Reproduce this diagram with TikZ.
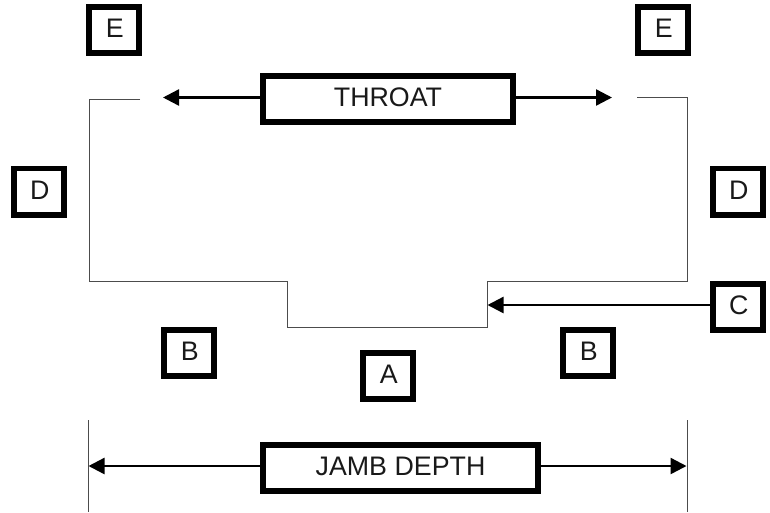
\documentclass[tikz,border=0pt]{standalone}
\usepackage{fontspec}
\setmainfont{Liberation Sans}
\usetikzlibrary{arrows.meta}
\begin{document}
\begin{tikzpicture}[x=1pt,y=-1pt,
  labelbox/.style={draw=black,fill=white,line width=5.7pt,inner sep=0pt,minimum height=46.3pt,
    font=\fontsize{26.8}{26.8}\selectfont,text height=19.2pt,text depth=3.6pt,text=black!90},
  letterbox/.style={labelbox,minimum width=50.3pt,text width=50.3pt,align=center},
  wall/.style={draw=black!70,line width=1pt,line cap=butt},
  pointer/.style={draw=black,line width=2.4pt,-{Triangle[length=16pt,width=16pt]}}]
\useasboundingbox (0,0) rectangle (770,512);
% outline
\coordinate (w1) at (140,99);
\coordinate (w2) at (89.5,99);
\coordinate (w3) at (89.5,281.7);
\coordinate (w4) at (287.5,281.7);
\coordinate (w5) at (287.5,327.7);
\coordinate (w6) at (487,327.7);
\coordinate (w7) at (487,281.7);
\coordinate (w8) at (687,281.7);
\coordinate (w9) at (687,97.7);
\coordinate (w10) at (637,97.7);
\draw[wall] (w1) -- (w2) -- (w3) -- (w4) -- (w5) -- (w6) -- (w7) -- (w8) -- (w9) -- (w10);
% jamb extents
\coordinate (jl1) at (88,420);
\coordinate (jl2) at (88,512);
\coordinate (jr1) at (687,420);
\coordinate (jr2) at (687,512);
\draw[wall] (jl1) -- (jl2);
\draw[wall] (jr1) -- (jr2);
% boxes
\node[letterbox] (e1) at (114,30) {\hspace*{1.5pt}E};
\node[letterbox] (e2) at (663,30) {\hspace*{1.5pt}E};
\node[letterbox] (d1) at (39,191.5) {\hspace*{1.5pt}D};
\node[letterbox] (d2) at (738,191.5) {\hspace*{1.5pt}D};
\node[letterbox] (c) at (738,307) {\hspace*{1.5pt}C};
\node[letterbox] (b1) at (189,353) {\hspace*{1.5pt}B};
\node[letterbox] (b2) at (588,353) {\hspace*{1.5pt}B};
\node[letterbox] (a) at (388,376) {\hspace*{1.5pt}A};
\node[labelbox,minimum width=250.3pt] (throat) at (388,99) {THROAT};
\node[labelbox,minimum width=275.3pt] (jamb) at (400.5,468) {JAMB DEPTH};
% arrows
\coordinate (tl) at (163,97.5);
\coordinate (tr) at (612,97.5);
\coordinate (ct) at (487.5,305);
\coordinate (jl) at (88.5,466);
\coordinate (jr) at (686.5,466);
\draw[pointer] (throat.west |- tl) -- (tl);
\draw[pointer] (throat.east |- tr) -- (tr);
\draw[pointer] (c.west |- ct) -- (ct);
\draw[pointer] (jamb.west |- jl) -- (jl);
\draw[pointer] (jamb.east |- jr) -- (jr);
\end{tikzpicture}
\end{document}
